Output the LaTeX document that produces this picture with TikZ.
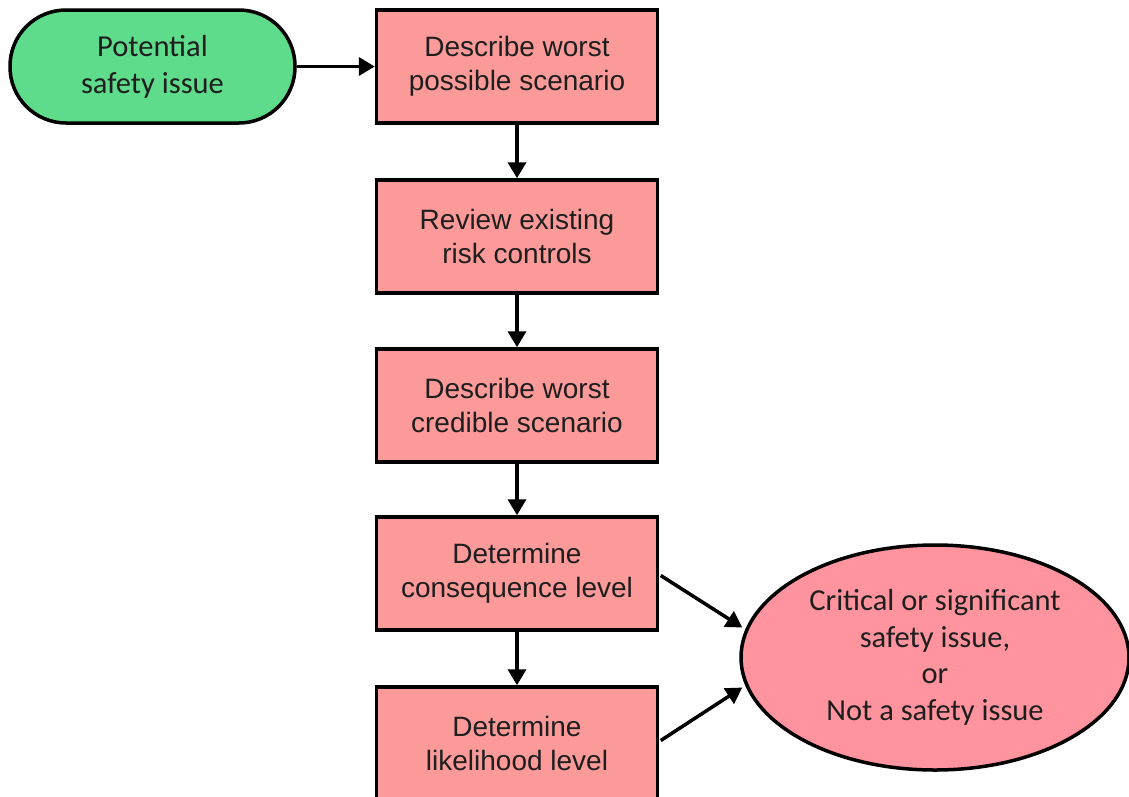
\documentclass[tikz,border=0pt]{standalone}
\usepackage{fontspec}
\setmainfont{Liberation Sans}
\newfontfamily\calib{Carlito}
\usetikzlibrary{shapes.geometric,arrows.meta,calc}
\definecolor{boxpink}{HTML}{FC9A9A}
\definecolor{ellpink}{HTML}{FF939E}
\definecolor{termgreen}{HTML}{5EDB8B}
\definecolor{txt}{HTML}{1E1E1E}
\tikzset{
  stepbox/.style={draw=black, line width=3.5pt, fill=boxpink, minimum width=281pt, minimum height=113pt, inner sep=0pt, align=center, text=txt, font=\fontsize{28}{34}\selectfont},
  termnode/.style={draw=black, line width=3.5pt, fill=termgreen, rounded corners=56pt, minimum width=285pt, minimum height=113pt, inner sep=0pt, align=center, text=txt, font=\calib\fontsize{30.5}{37}\selectfont},
  endnode/.style={draw=black, line width=3.5pt, fill=ellpink, ellipse, minimum width=388pt, minimum height=225pt, inner sep=0pt, align=center, text=txt, font=\calib\fontsize{30.5}{36.5}\selectfont},
  conn/.style={line width=3.5pt, -{Triangle[length=16pt,width=18pt]}}
}
\begin{document}
\begin{tikzpicture}[x=1pt,y=-1pt]
\clip (0,0) rectangle (1129,796);
\fill[white] (0,0) rectangle (1129,796);
\node[termnode] (start) at (152.5,66.5) {Potential\\safety issue};
\node[stepbox] (b1) at (517,66.5) {Describe worst\\possible scenario};
\node[stepbox] (b2) at (517,236.5) {Review existing\\risk controls};
\node[stepbox] (b3) at (517,405.5) {Describe worst\\credible scenario};
\node[stepbox] (b4) at (517,573.5) {Determine\\consequence level};
\node[stepbox] (b5) at (517,743.5) {Determine\\likelihood level};
\node[endnode] (res) at (935,657.5) {Critical or significant\\safety issue,\\or\\Not a safety issue};
\coordinate (e1) at ($(res.west)+(3,-30)$);
\coordinate (e2) at ($(res.west)+(3,30)$);
\draw[conn] (start.east) -- (b1.west);
\draw[conn] (b1.south) -- (b2.north);
\draw[conn] (b2.south) -- (b3.north);
\draw[conn] (b3.south) -- (b4.north);
\draw[conn] (b4.south) -- (b5.north);
\draw[conn] ($(b4.east)+(1.5,2)$) -- (e1);
\draw[conn] ($(b5.east)+(1.5,-3)$) -- (e2);
\end{tikzpicture}
\end{document}
